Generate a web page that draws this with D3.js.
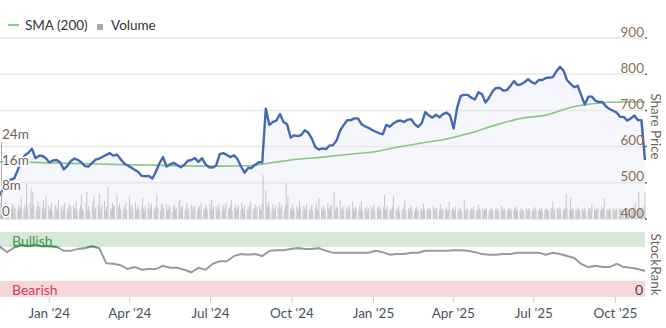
<!DOCTYPE html>
<html>
<head>
<meta charset="utf-8">
<script src="https://cdn.jsdelivr.net/npm/d3@7"></script>
<style>
  body { margin: 0; background: #fff; }
  svg { display: block; font-family: Lato, "Open Sans", sans-serif; }
</style>
</head>
<body>
<svg id="chart" width="666" height="328"></svg>
<script>
// ---- data -------------------------------------------------------------
const startDate = new Date(2023, 10, 7);
const endDate = new Date(2025, 10, 4);

// share price, one reading every 4 days
const priceStepDays = 4;
const prices = [
  465,490,503,509,512,535,560,576,583,594,568,575,574,567,556,562,563,556,537,547,
  560,567,563,556,546,545,555,564,567,572,577,582,575,578,566,554,548,542,536,530,
  519,518,519,512,531,554,571,545,551,555,549,543,550,561,563,568,558,568,551,543,
  542,548,579,582,577,571,576,566,545,528,541,541,550,557,556,705,660,668,672,690,
  668,662,625,631,629,632,645,638,622,598,592,595,593,603,604,618,645,660,673,673,
  678,678,662,656,652,646,641,637,634,660,655,664,670,672,668,674,676,662,654,665,
  695,686,680,688,681,690,694,686,650,708,740,743,743,735,730,750,745,722,735,753,
  762,762,755,756,767,781,770,772,778,786,778,774,784,784,789,791,792,808,820,810,
  784,773,764,768,742,716,738,738,727,723,723,711,704,699,694,682,682,672,678,686,
  673,673,563
];

// 200-day simple moving average, one reading every 28 days
const smaStepDays = 28;
const sma200 = [
  558,557,555,553,552,550,549,547,546,546,547,556,565,571,578,585,598,610,621,638,
  660,678,687,708,719,723,723
];

// StockRank, one reading every 8 days
const rankStepDays = 8;
const stockRank = [
  77,69,76,80,78,80,78,78,77,71,71,74,75,78,75,52,51,49,43,46,
  42,43,43,48,45,45,42,38,45,42,51,55,55,63,66,65,66,63,71,72,
  72,74,75,74,74,75,71,68,68,68,68,68,68,71,69,65,66,66,68,68,
  71,71,71,71,72,72,71,69,66,65,65,66,66,68,68,68,68,65,68,66,
  63,60,51,46,48,46,46,51,46,45,43,40
];

// daily volume in millions of shares, most recent last
const volumes = [
  2.1,3.4,4.8,2.6,3.9,5.2,2.8,3.1,4.4,2.2,3.6,5.0,2.9,4.1,3.3,2.5,4.6,3.0,3.8,7.0,
  3.2,4.5,2.7,11.0,3.9,5.1,9.6,3.4,8.4,4.2,2.6,3.7,5.4,2.9,4.0,3.3,5.8,2.4,3.6,7.0,
  4.1,2.8,3.5,5.2,2.3,3.9,4.6,2.7,3.2,6.0,3.8,2.5,4.3,3.0,5.1,2.6,3.4,4.7,2.2,3.9,
  4.4,2.9,3.6,5.5,2.4,3.1,4.2,7.5,3.3,2.7,4.9,8.4,3.0,4.1,2.6,3.8,5.3,7.0,2.9,3.5,
  4.6,8.0,3.2,2.8,4.4,5.6,2.5,3.7,4.0,10.0,3.4,2.9,5.0,3.6,4.3,7.5,2.7,3.9,4.8,3.1,
  2.6,4.2,3.5,5.3,2.8,7.0,3.9,2.4,4.5,3.2,5.1,2.7,3.6,4.4,2.9,3.8,6.5,3.3,2.5,4.1,
  3.4,5.2,2.6,3.9,4.7,2.8,3.3,4.0,7.5,3.6,2.5,4.3,5.0,2.9,3.5,4.6,2.7,3.1,4.2,3.7,
  2.4,3.8,4.5,2.9,3.3,5.1,6.0,2.6,3.7,4.1,2.8,3.5,4.8,2.5,3.2,4.4,2.7,3.9,3.0,4.2,
  2.6,3.4,4.0,2.8,5.0,3.3,2.5,4.3,3.6,2.9,4.7,3.1,6.0,2.7,3.8,4.1,2.4,3.5,4.6,2.8,
  3.2,4.4,2.6,3.7,4.9,2.9,3.4,4.1,6.0,2.7,3.6,4.5,2.5,3.3,4.0,2.8,5.0,3.5,2.6,4.2,
  3.1,2.7,4.3,3.6,5.5,2.9,3.4,4.6,2.5,3.8,4.1,2.8,3.2,4.9,13.7,9.0,4.4,3.6,5.5,3.9,
  2.8,4.7,3.3,2.6,4.2,3.7,5.1,2.9,3.5,4.4,2.7,3.9,11.2,4.6,7.0,3.3,2.8,4.5,3.6,2.6,
  4.1,3.2,2.9,5.5,3.7,2.5,4.3,3.4,2.8,4.6,3.1,2.7,3.9,4.4,2.6,3.5,4.8,3.0,2.5,6.5,
  3.6,2.4,4.2,3.1,2.7,4.9,3.4,2.6,3.8,4.5,8.4,3.2,2.8,4.1,3.5,6.0,2.6,3.3,4.0,2.9,
  3.7,2.5,3.2,4.3,2.8,5.5,3.0,2.6,3.9,3.4,2.7,4.2,3.1,5.5,2.6,3.6,2.9,4.0,2.4,3.3,
  3.8,2.7,3.1,4.4,2.5,3.5,2.9,4.1,3.3,2.6,3.7,7.5,2.8,3.2,4.0,2.5,3.4,2.9,3.8,7.2,
  3.0,2.6,3.5,4.2,2.4,3.1,2.8,3.9,6.0,2.7,3.3,2.5,3.6,4.1,2.9,2.4,3.2,3.7,2.6,3.0,
  2.7,3.4,2.5,4.7,3.1,2.8,3.6,2.3,3.3,2.9,4.0,2.6,3.2,2.4,3.5,2.7,4.7,3.0,2.5,3.3,
  2.8,3.6,2.4,3.1,5.3,2.7,3.4,2.9,2.5,3.8,3.2,2.6,3.0,3.5,2.4,6.0,2.8,3.3,2.6,3.1,
  2.5,3.4,2.9,3.7,2.6,3.0,2.4,4.4,3.2,2.7,3.5,2.5,3.1,2.8,3.6,2.4,3.0,2.7,3.3,2.6,
  3.0,2.5,3.4,2.8,2.4,4.0,3.1,2.6,3.3,2.7,2.5,3.6,2.9,2.4,3.2,2.8,3.5,4.0,2.6,3.0,
  2.4,3.3,2.7,3.1,2.5,3.6,2.8,2.3,3.4,2.9,2.6,3.2,2.4,3.7,2.8,2.5,3.0,2.7,3.5,2.4,
  3.1,2.6,3.3,2.8,2.5,3.6,2.9,5.3,3.2,2.7,3.4,2.5,3.0,3.8,2.6,3.1,2.8,3.5,8.0,3.3,
  2.7,6.5,3.0,2.6,3.4,2.9,2.5,3.7,3.1,2.8,3.3,2.6,3.0,3.6,2.5,3.2,2.9,3.4,2.7,4.5,
  3.0,2.6,3.5,2.8,3.2,2.5,3.7,2.9,3.3,6.5,2.7,3.1,2.6,3.4,2.8,3.6,2.5,3.0,2.7,3.3,
  2.9,3.5,2.6,3.1,2.8,3.4,2.5,3.7,3.0,2.7,3.3,2.6,3.8,3.1,5.0,2.9,8.4,3.4,3.0,3.6,
  4.2,8.2
];

const priceTicks = [400, 500, 600, 700, 800, 900];
const volumeTicks = [0, 8, 16, 24];
const volumeTickLabels = ["0", "8m", "16m", "24m"];
const bullishMin = 77;
const bearishMax = 25;

// ---- layout -----------------------------------------------------------
const svg = d3.select("#chart");
const plotLeft = 0, plotRight = 645;
const priceTop = 38, priceBottom = 219;
const rankTop = 232, rankBottom = 297;

const x = d3.scaleTime().domain([startDate, endDate]).range([plotLeft, plotRight]);
const yPrice = d3.scaleLinear().domain([400, 900]).range([priceBottom, priceTop]);
const yVol = d3.scaleLinear().domain([0, 24]).range([priceBottom, 142]);
const yRank = d3.scaleLinear().domain([0, 100]).range([rankBottom, rankTop]);

const priceData = prices.map((p, i) => ({ d: d3.timeDay.offset(startDate, i * priceStepDays), v: p }));
const smaData = sma200.map((p, i) => ({ d: d3.timeDay.offset(startDate, i * smaStepDays), v: p }));
const rankData = stockRank.map((r, i) => ({ d: d3.timeDay.offset(startDate, i * rankStepDays), v: r }));
const tradingDays = d3.timeDay.range(startDate, d3.timeDay.offset(endDate, 1))
  .filter(d => d.getDay() !== 0 && d.getDay() !== 6);
const volVals = volumes.slice(-tradingDays.length);
const volDays = tradingDays.slice(-volVals.length);
const volData = volVals.map((v, i) => ({ d: volDays[i], v }));

// ---- legend -----------------------------------------------------------
const legend = svg.append("g").attr("font-size", 13.5).attr("fill", "#333");
legend.append("line").attr("x1", 8).attr("x2", 19).attr("y1", 25).attr("y2", 25)
  .attr("stroke", "#8fcb8c").attr("stroke-width", 2);
legend.append("text").attr("x", 25).attr("y", 30).text("SMA (200)");
legend.append("rect").attr("x", 97).attr("y", 24).attr("width", 6).attr("height", 6).attr("fill", "#a9a9ad");
legend.append("text").attr("x", 111).attr("y", 30).text("Volume");

// ---- price panel ------------------------------------------------------
const area = d3.area().x(d => x(d.d)).y0(priceBottom).y1(d => yPrice(d.v));
svg.append("path").datum(priceData).attr("d", area).attr("fill", "#f4f6fb");

svg.append("g").selectAll("line").data(priceTicks).join("line")
  .attr("x1", plotLeft).attr("x2", plotRight)
  .attr("y1", d => yPrice(d)).attr("y2", d => yPrice(d))
  .attr("stroke", "#e8e8e8").attr("stroke-width", 1.5);

svg.append("g").selectAll("rect").data(volData).join("rect")
  .attr("x", d => x(d.d) - 0.5).attr("width", 1)
  .attr("y", d => yVol(d.v)).attr("height", d => priceBottom - yVol(d.v))
  .attr("fill", "#c6c6ca");

svg.append("path").datum(smaData)
  .attr("d", d3.line().x(d => x(d.d)).y(d => yPrice(d.v)).curve(d3.curveMonotoneX))
  .attr("fill", "none").attr("stroke", "#86c783").attr("stroke-width", 1.6);

svg.append("path").datum(priceData)
  .attr("d", d3.line().x(d => x(d.d)).y(d => yPrice(d.v)))
  .attr("fill", "none").attr("stroke", "#4469b3").attr("stroke-width", 2.4)
  .attr("stroke-linejoin", "round");

// right price axis
const pAxis = svg.append("g").attr("font-size", 13.5);
pAxis.selectAll("text").data(priceTicks).join("text")
  .attr("x", plotRight - 1).attr("y", d => yPrice(d) - 1.5)
  .attr("text-anchor", "end").attr("fill", "#8a7050").text(d => d);
pAxis.selectAll("line").data(priceTicks).join("line")
  .attr("x1", plotRight).attr("x2", plotRight + 2)
  .attr("y1", d => yPrice(d)).attr("y2", d => yPrice(d))
  .attr("stroke", "#666").attr("stroke-width", 1.5);

// left volume axis
svg.append("line").attr("x1", 1.5).attr("x2", 1.5).attr("y1", yVol(24)).attr("y2", priceBottom)
  .attr("stroke", "#aaa");
svg.append("g").attr("font-size", 13.5).selectAll("text").data(volumeTicks).join("text")
  .attr("x", 2).attr("y", d => yVol(d) - 3)
  .attr("fill", "#6d6257").attr("stroke", "#fff").attr("stroke-width", 3)
  .attr("paint-order", "stroke")
  .text((d, i) => volumeTickLabels[i]);

svg.append("text")
  .attr("transform", `translate(651,${(priceTop + priceBottom) / 2 - 2}) rotate(90)`)
  .attr("text-anchor", "middle").attr("font-size", 13.5).attr("fill", "#666")
  .text("Share Price");

// ---- StockRank panel --------------------------------------------------
svg.append("rect").attr("x", plotLeft).attr("width", plotRight - plotLeft)
  .attr("y", yRank(100)).attr("height", yRank(bullishMin) - yRank(100)).attr("fill", "#d5e9d9");
svg.append("rect").attr("x", plotLeft).attr("width", plotRight - plotLeft)
  .attr("y", yRank(bearishMax)).attr("height", yRank(0) - yRank(bearishMax)).attr("fill", "#f5d6db");

svg.append("text").attr("x", 12).attr("y", 246).attr("font-size", 14)
  .attr("fill", "#3d9a45").text("Bullish");
svg.append("text").attr("x", 12).attr("y", 295).attr("font-size", 14)
  .attr("fill", "#d2405a").text("Bearish");
svg.append("text").attr("x", 643).attr("y", 295).attr("font-size", 14)
  .attr("text-anchor", "end").attr("fill", "#444").text("0");

const rankLine = d3.line().x(d => x(d.d)).y(d => yRank(d.v));
svg.append("defs").append("clipPath").attr("id", "bullClip")
  .append("rect").attr("x", plotLeft - 5).attr("width", plotRight + 10)
  .attr("y", 0).attr("height", yRank(bullishMin) + 0.5);
svg.append("path").datum(rankData).attr("d", rankLine)
  .attr("fill", "none").attr("stroke", "#9a9a9a").attr("stroke-width", 2);
svg.append("path").datum(rankData).attr("d", rankLine).attr("clip-path", "url(#bullClip)")
  .attr("fill", "none").attr("stroke", "#3f9a48").attr("stroke-width", 2);

svg.append("text")
  .attr("transform", `translate(651,${(rankTop + rankBottom) / 2}) rotate(90)`)
  .attr("text-anchor", "middle").attr("font-size", 13.5).attr("fill", "#666")
  .text("StockRank");

// ---- time axis --------------------------------------------------------
const xAxis = d3.axisBottom(x)
  .tickValues(d3.timeMonth.every(3).range(startDate, endDate).filter(d => d.getMonth() % 3 === 0))
  .tickFormat(d3.timeFormat("%b '%y")).tickSize(6).tickPadding(5);
const gx = svg.append("g").attr("transform", `translate(0,${rankBottom})`).call(xAxis);
gx.select(".domain").remove();
gx.selectAll(".tick line").attr("stroke", "#d0d0d0");
gx.selectAll(".tick text").attr("font-size", 13.5).attr("fill", "#4a5262")
  .attr("font-family", "Lato, 'Open Sans', sans-serif");
</script>
</body>
</html>
